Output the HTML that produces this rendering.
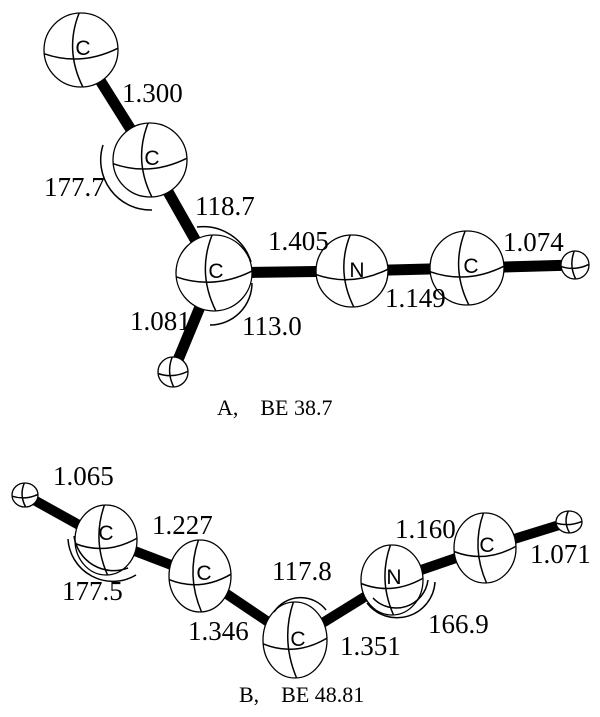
<!DOCTYPE html>
<html><head><meta charset="utf-8"><style>
html,body{margin:0;padding:0;background:#fff;}
svg{display:block;}
.l{fill:none;stroke:#000;stroke-width:1.5;}
.b{stroke:#000;stroke-linecap:round;}
.s{font-family:"Liberation Sans",sans-serif;font-size:21px;fill:#000;}
.t{font-family:"Liberation Serif",serif;font-size:27px;fill:#000;}
.cap{font-family:"Liberation Serif",serif;font-size:22px;fill:#000;}
</style></head><body>
<svg width="600" height="717" viewBox="0 0 600 717" xmlns="http://www.w3.org/2000/svg">
<defs>
<g id="at">
<circle cx="0" cy="0" r="1" fill="#fff" stroke="#000" stroke-width="1.3" vector-effect="non-scaling-stroke"/>
<path d="M-1,0.1 Q0,0.45 1,-0.05" fill="none" stroke="#000" stroke-width="1.5" vector-effect="non-scaling-stroke"/>
<path d="M-0.05,-1 Q-0.45,0 0.05,1" fill="none" stroke="#000" stroke-width="1.5" vector-effect="non-scaling-stroke"/>
</g>
</defs>
<!-- A bonds -->
<line class="b" x1="81" y1="50" x2="150" y2="160" stroke-width="11"/>
<line class="b" x1="150" y1="160" x2="214" y2="273" stroke-width="11"/>
<line class="b" x1="214" y1="273" x2="352" y2="271" stroke-width="11"/>
<line class="b" x1="352" y1="271" x2="467" y2="268" stroke-width="11"/>
<line class="b" x1="467" y1="268" x2="575" y2="265" stroke-width="11"/>
<line class="b" x1="214" y1="273" x2="173" y2="372" stroke-width="11"/>
<!-- A atoms -->
<g transform="translate(81,50) scale(37)"><use href="#at"/></g>
<g transform="translate(150,160) scale(37)"><use href="#at"/></g>
<g transform="translate(214,273) scale(38)"><use href="#at"/></g>
<g transform="translate(352,271) scale(36)"><use href="#at"/></g>
<g transform="translate(467,268) scale(37)"><use href="#at"/></g>
<g transform="translate(173,372) scale(15)"><use href="#at"/></g>
<g transform="translate(575,265) scale(14)"><use href="#at"/></g>
<text class="s" x="83" y="55" text-anchor="middle">C</text>
<text class="s" x="152" y="165" text-anchor="middle">C</text>
<text class="s" x="216" y="278" text-anchor="middle">C</text>
<text class="s" x="357" y="277" text-anchor="middle">N</text>
<text class="s" x="471" y="273" text-anchor="middle">C</text>
<!-- A angle arcs -->
<path class="l" d="M103,145 A50,50 0 0 0 152,210"/>
<path class="l" d="M197,227 A50,50 0 0 1 251,262"/>
<path class="l" d="M252,283 A42,42 0 0 1 210,325"/>
<!-- A labels -->
<text class="t" x="122" y="102">1.300</text>
<text class="t" x="44" y="196">177.7</text>
<text class="t" x="195" y="215">118.7</text>
<text class="t" x="268" y="250">1.405</text>
<text class="t" x="130" y="330">1.081</text>
<text class="t" x="242" y="335">113.0</text>
<text class="t" x="385" y="307">1.149</text>
<text class="t" x="503" y="251">1.074</text>
<text class="cap" x="217" y="415">A,&#160;&#160;&#160;&#160;BE 38.7</text>
<!-- B bonds -->
<line class="b" x1="25" y1="495" x2="106" y2="540" stroke-width="10"/>
<line class="b" x1="106" y1="540" x2="200" y2="576" stroke-width="10"/>
<line class="b" x1="200" y1="576" x2="295" y2="640" stroke-width="10"/>
<line class="b" x1="295" y1="640" x2="392" y2="580" stroke-width="10"/>
<line class="b" x1="392" y1="580" x2="485" y2="548" stroke-width="10"/>
<line class="b" x1="485" y1="548" x2="569" y2="522" stroke-width="10"/>
<g transform="translate(106,540) scale(31,35)"><use href="#at"/></g>
<g transform="translate(200,576) scale(31,36)"><use href="#at"/></g>
<g transform="translate(295,640) scale(32,38)"><use href="#at"/></g>
<g transform="translate(392,580) scale(31,35)"><use href="#at"/></g>
<g transform="translate(485,548) scale(31,35)"><use href="#at"/></g>
<g transform="translate(25,495) scale(13,12)"><use href="#at"/></g>
<g transform="translate(569,522) scale(13,11)"><use href="#at"/></g>
<text class="s" x="106" y="540" text-anchor="middle">C</text>
<text class="s" x="204" y="580" text-anchor="middle">C</text>
<text class="s" x="298" y="646" text-anchor="middle">C</text>
<text class="s" x="394" y="584" text-anchor="middle">N</text>
<text class="s" x="487" y="552" text-anchor="middle">C</text>
<!-- B arcs -->
<path class="l" d="M68,539 A45,45 0 0 0 136,575"/>
<path class="l" d="M74,536 A40,40 0 0 0 128,568"/>
<path class="l" d="M274,612 A32,32 0 0 1 326,610"/>
<path class="l" d="M367,603 A38,38 0 0 0 435,582"/>
<path class="l" d="M373,598 A32,32 0 0 0 428,580"/>
<text class="t" x="53" y="485">1.065</text>
<text class="t" x="152" y="534">1.227</text>
<text class="t" x="62" y="600">177.5</text>
<text class="t" x="272" y="580">117.8</text>
<text class="t" x="188" y="640">1.346</text>
<text class="t" x="340" y="655">1.351</text>
<text class="t" x="428" y="633">166.9</text>
<text class="t" x="395" y="538">1.160</text>
<text class="t" x="530" y="563">1.071</text>
<text class="cap" x="239" y="702">B,&#160;&#160;&#160;&#160;BE 48.81</text>
</svg>
</body></html>
